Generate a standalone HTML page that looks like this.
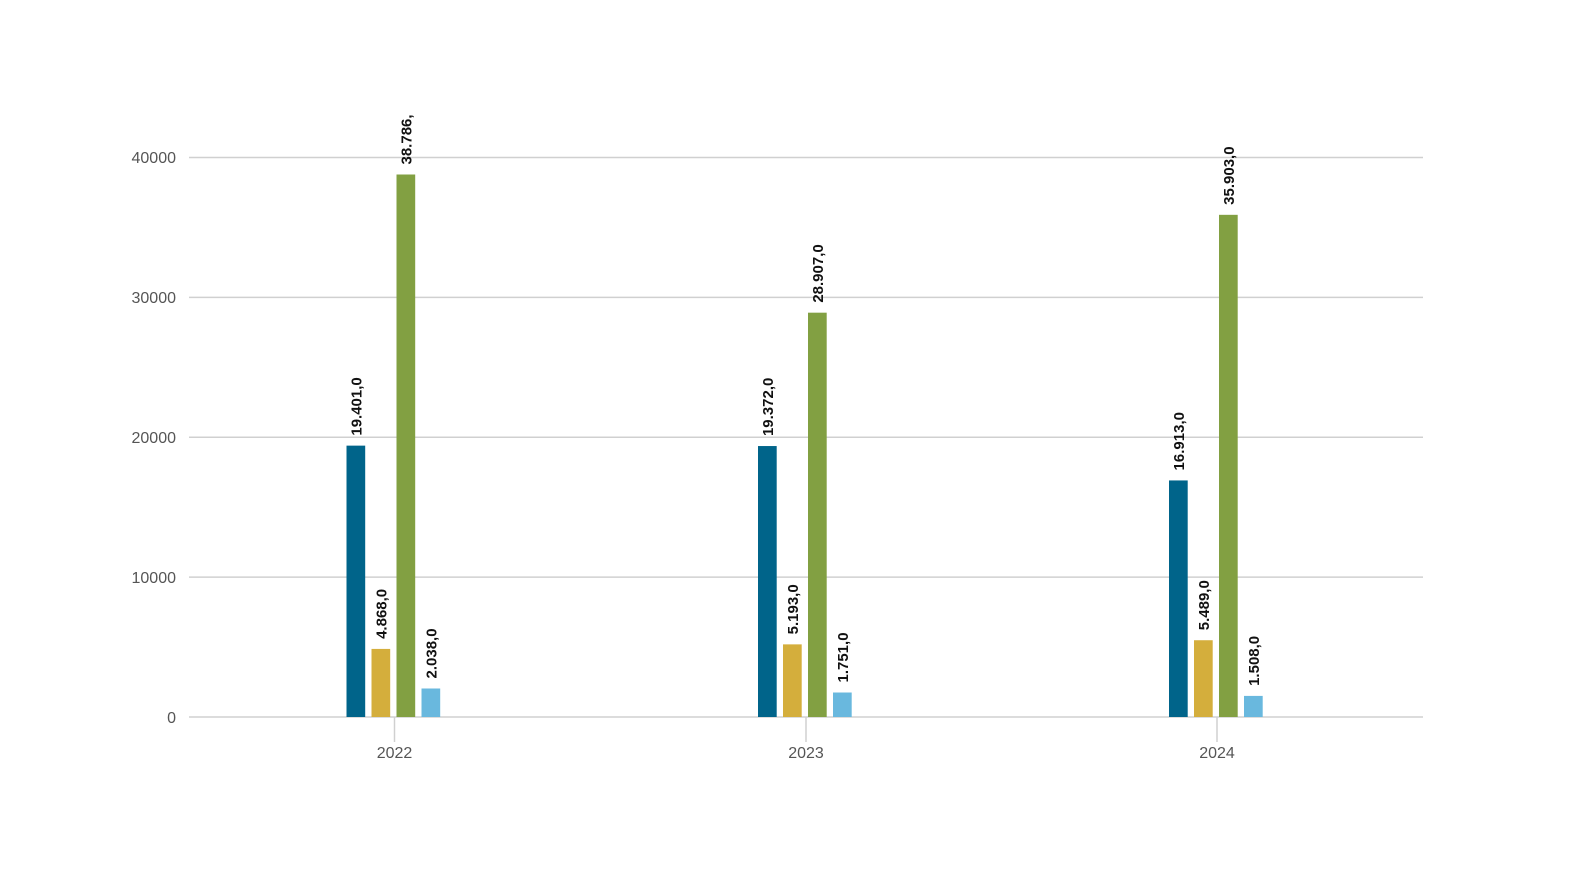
<!DOCTYPE html>
<html><head><meta charset="utf-8"><style>
html,body{margin:0;padding:0;background:#fff;}
svg{display:block;font-family:"Liberation Sans",sans-serif;}
.t{font-size:16px;fill:#555;}
.l{font-size:15px;font-weight:bold;fill:#111;}
</style></head><body>
<svg width="1584" height="895" viewBox="0 0 1584 895">
<defs><clipPath id="c"><rect x="0" y="115" width="1584" height="800"/></clipPath></defs>
<g stroke="#d0d0d0" stroke-width="1.5">
<line x1="189" x2="1423" y1="157.5" y2="157.5"/>
<line x1="189" x2="1423" y1="297.4" y2="297.4"/>
<line x1="189" x2="1423" y1="437.2" y2="437.2"/>
<line x1="189" x2="1423" y1="577.1" y2="577.1"/>
<line x1="189" x2="1423" y1="717" y2="717"/>
<line x1="394.5" x2="394.5" y1="717" y2="742"/>
<line x1="806" x2="806" y1="717" y2="742"/>
<line x1="1217" x2="1217" y1="717" y2="742"/>
</g>
<g class="t" text-anchor="end">
<text x="176" y="163">40000</text><text x="176" y="303">30000</text>
<text x="176" y="443">20000</text><text x="176" y="583">10000</text>
<text x="176" y="723">0</text>
</g>
<g class="t" text-anchor="middle">
<text x="394.5" y="758">2022</text><text x="806" y="758">2023</text><text x="1217" y="758">2024</text>
</g>
<g id="bars"></g>
<g id="labels" clip-path="url(#c)"></g>
<script>
var d=[[19401,4868,38786,2038],[19372,5193,28907,1751],[16913,5489,35903,1508]];
var cols=["#00648a","#d4ae3c","#82a042","#69b8de"];
var starts=[346.5,758,1169];
var ns="http://www.w3.org/2000/svg",b=document.getElementById("bars"),L=document.getElementById("labels");
function f(v){var s=String(v);return s.slice(0,s.length-3)+"."+s.slice(-3)+",0";}
for(var i=0;i<3;i++)for(var j=0;j<4;j++){
var v=d[i][j],h=v*0.013987,x=starts[i]+j*25,y=717-h;
var r=document.createElementNS(ns,"rect");r.setAttribute("x",x);r.setAttribute("y",y);r.setAttribute("width",18.7);r.setAttribute("height",h);r.setAttribute("fill",cols[j]);b.appendChild(r);
var t=document.createElementNS(ns,"text");t.setAttribute("class","l");
var tx=x+9.35+5.5,ty=y-10;t.setAttribute("transform","translate("+tx+","+ty+") rotate(-90)");t.textContent=f(v);L.appendChild(t);}
</script>
</svg>
</body></html>
